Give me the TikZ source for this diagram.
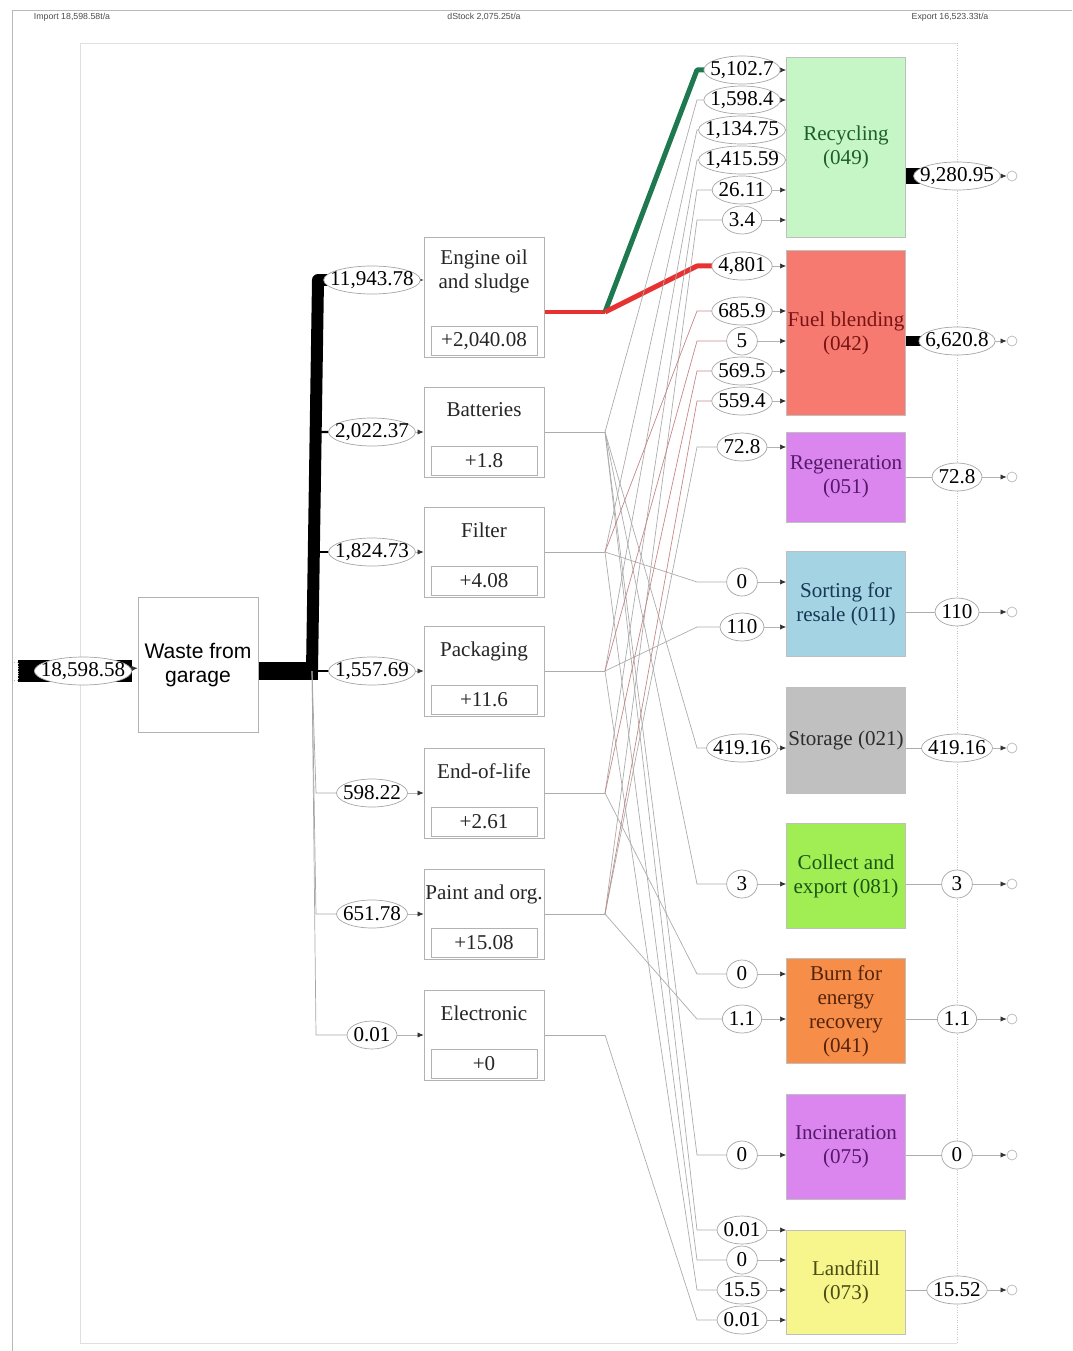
\documentclass[tikz,border=0pt]{standalone}
\usepackage{fontspec}
\setmainfont{Liberation Serif}
\setsansfont{Liberation Sans}
\usetikzlibrary{positioning,arrows.meta,calc}

\pgfdeclarelayer{bg}
\pgfdeclarelayer{rim}
\pgfsetlayers{bg,rim,main}

% Farben der Behandlungsarten
\definecolor{recfill}{RGB}{198,246,198}
\definecolor{rectext}{RGB}{30,95,40}
\definecolor{fuelfill}{RGB}{246,122,112}
\definecolor{fueltext}{RGB}{120,20,20}
\definecolor{violfill}{RGB}{218,134,238}
\definecolor{violtext}{RGB}{85,25,105}
\definecolor{sortfill}{RGB}{164,212,228}
\definecolor{sorttext}{RGB}{25,55,85}
\definecolor{storfill}{RGB}{192,192,192}
\definecolor{stortext}{RGB}{45,45,45}
\definecolor{collfill}{RGB}{160,238,84}
\definecolor{colltext}{RGB}{25,85,20}
\definecolor{burnfill}{RGB}{246,142,74}
\definecolor{burntext}{RGB}{85,35,10}
\definecolor{landfill}{RGB}{246,246,140}
\definecolor{landtext}{RGB}{75,75,20}
\definecolor{oilgreen}{RGB}{30,120,80}
\definecolor{oilred}{RGB}{232,50,50}

\begin{document}
\begin{tikzpicture}[
  x=0.02cm, y=-0.02cm,
  every node/.style={font=\fontsize{12}{13.6}\selectfont},
  head/.style={font=\sffamily\fontsize{5}{6}\selectfont, text=black!70},
  amount/.style={inner xsep=3.5pt, inner ysep=0pt, minimum height=0.56cm, minimum width=0.6cm},
  stage/.style={draw=gray!60, fill=white, minimum width=2.4cm, minimum height=1.8cm},
  title/.style={anchor=north, align=center, inner sep=0pt, text=black!85},
  stock/.style={draw=gray!60, anchor=south, minimum width=2.12cm, minimum height=0.58cm, inner sep=0pt, text=black!85},
  proc/.style={draw=gray!50, minimum width=2.38cm, inner xsep=0pt, align=center},
  sink/.style={circle, draw=gray!55, minimum size=0.2cm, inner sep=0pt},
  feed/.style={-{Latex[length=3.5pt,width=3pt,color=black!80]}, gray!60},
  flow/.style={gray!65},
  tofuel/.style={red!35!gray!70}
]
\useasboundingbox (0,0) rectangle (1072,1351);

% Kopfzeile
\node[head] (import) at (72,17) {Import 18,598.58t/a};
\node[head] (dstock) at (484,17) {dStock 2,075.25t/a};
\node[head] (export) at (950,17) {Export 16,523.33t/a};

% Quelle
\node[draw=gray!60, densely dotted, minimum width=0.12cm, minimum height=0.36cm, inner sep=0pt] (src) at (15,671) {};
\node[amount] (imp) at (83,671) {18,598.58};
\node[stage, minimum height=2.7cm, align=center, font=\sffamily\fontsize{12}{13.5}\selectfont] (garage) at (198,665) {Waste from\\garage};
\coordinate (split) at (312,671);

% Abfallarten
\node[amount] (a1) at (372,280) {11,943.78};
\node[amount] (a2) at (372,432) {2,022.37};
\node[amount] (a3) at (372,552) {1,824.73};
\node[amount] (a4) at (372,671) {1,557.69};
\node[amount] (a5) at (372,793) {598.22};
\node[amount] (a6) at (372,914) {651.78};
\node[amount] (a7) at (372,1035) {0.01};

\node[stage, minimum height=2.4cm] (oil) at (484,297) {};
\node[title] (toil) at ([yshift=-0.26cm]oil.north) {Engine oil\\and sludge};
\node[stock] (doil) at ([yshift=1pt]oil.south) {+2,040.08};
\coordinate (joil) at (605,312);

\foreach \nm/\yy/\lbl/\dd in {bat/432/Batteries/+1.8, fil/552/Filter/+4.08, pack/671/Packaging/+11.6,
    eol/793/End-of-life/+2.61, paint/914/Paint and org./+15.08, elec/1035/Electronic/+0} {
  \node[stage] (\nm) at (484,\yy) {};
  \node[title] (t\nm) at ([yshift=-0.32cm]\nm.north) {\lbl};
  \node[stock] (d\nm) at ([yshift=1pt]\nm.south) {\dd};
  \coordinate (j\nm) at (605,\yy);
}

% Mengen vor den Behandlungen
\node[amount] (r1) at (742,70) {5,102.7};
\node[amount] (r2) at (742,100) {1,598.4};
\node[amount] (r3) at (742,130) {1,134.75};
\node[amount] (r4) at (742,160) {1,415.59};
\node[amount] (r5) at (742,190) {26.11};
\node[amount] (r6) at (742,220) {3.4};
\node[amount] (f1) at (742,266) {4,801};
\node[amount] (f2) at (742,311) {685.9};
\node[amount] (f3) at (742,341) {5};
\node[amount] (f4) at (742,371) {569.5};
\node[amount] (f5) at (742,401) {559.4};
\node[amount] (g1) at (742,447) {72.8};
\node[amount] (s1) at (742,582) {0};
\node[amount] (s2) at (742,627) {110};
\node[amount] (st1) at (742,748) {419.16};
\node[amount] (c1) at (742,884) {3};
\node[amount] (b1) at (742,974) {0};
\node[amount] (b2) at (742,1019) {1.1};
\node[amount] (n1) at (742,1155) {0};
\node[amount] (l1) at (742,1230) {0.01};
\node[amount] (l2) at (742,1260) {0};
\node[amount] (l3) at (742,1290) {15.5};
\node[amount] (l4) at (742,1320) {0.01};

% Behandlungen
\node[proc, fill=recfill, text=rectext, minimum height=3.6cm] (rec) at (846,147) {Recycling\\(049)};
\node[proc, fill=fuelfill, text=fueltext, minimum height=3.3cm] (fuel) at (846,333) {Fuel blending\\(042)};
\node[proc, fill=violfill, text=violtext, minimum height=1.8cm] (regen) at (846,477) {Regeneration\\(051)};
\node[proc, fill=sortfill, text=sorttext, minimum height=2.1cm] (sort) at (846,604) {Sorting for\\resale (011)};
\node[proc, fill=storfill, text=stortext, minimum height=2.12cm] (store) at (846,740) {Storage (021)};
\node[proc, fill=collfill, text=colltext, minimum height=2.1cm] (coll) at (846,876) {Collect and\\export (081)};
\node[proc, fill=burnfill, text=burntext, minimum height=2.1cm] (burn) at (846,1011) {Burn for\\energy\\recovery\\(041)};
\node[proc, fill=violfill, text=violtext, minimum height=2.1cm] (incin) at (846,1147) {Incineration\\(075)};
\node[proc, fill=landfill, text=landtext, minimum height=2.08cm] (land) at (846,1282) {Landfill\\(073)};

% Export
\node[amount] (o1) at (957,176) {9,280.95};
\node[amount] (o2) at (957,341) {6,620.8};
\node[amount] (o3) at (957,477) {72.8};
\node[amount] (o4) at (957,612) {110};
\node[amount] (o5) at (957,748) {419.16};
\node[amount] (o6) at (957,884) {3};
\node[amount] (o7) at (957,1019) {1.1};
\node[amount] (o8) at (957,1155) {0};
\node[amount] (o9) at (957,1290) {15.52};
\foreach \i in {1,...,9}
  \node[sink] (k\i) at (1012,0 |- o\i) {};

% Ellipsen um die Mengen
\begin{pgfonlayer}{rim}
\foreach \nm in {imp,a1,a2,a3,a4,a5,a6,a7,r1,r2,r3,r4,r5,r6,f1,f2,f3,f4,f5,g1,s1,s2,st1,c1,
    b1,b2,n1,l1,l2,l3,l4,o1,o2,o3,o4,o5,o6,o7,o8,o9}
  \path[draw=gray!70, fill=white] let \p1=($(\nm.east)-(\nm.west)$) in
    (\nm.center) ellipse [x radius=0.5*\x1, y radius=0.28cm];
\end{pgfonlayer}

\begin{pgfonlayer}{bg}
% Rahmen
\draw[gray!55] (12,1351) -- (12,10) -- (1072,10);
\draw[gray!25] (957,43) -- (80,43) -- (80,1343) -- (957,1343);
\draw[gray!45, densely dotted] (957,43) -- (957,1343);

% Import und Aufteilung
\draw[line width=0.44cm] (src) -- (imp.east);
\draw[feed] (imp) -- (garage);
\draw[line width=0.36cm] (garage.east |- split) -- ([xshift=0.12cm]split);
\draw[line width=0.24cm, line join=round] (split) -- (318,280) -- (a1.center);
\foreach \i/\w in {2/1.2pt,3/1.1pt,4/1pt}
  \draw[line width=\w] (split) -- (318,0 |- a\i) -- (a\i);
\foreach \i in {5,6,7}
  \draw[gray!70] (split) -- (316,0 |- a\i) -- (a\i);
\draw[feed] (a1) -- (a1 -| oil.west);
\foreach \i/\nm in {2/bat,3/fil,4/pack,5/eol,6/paint,7/elec}
  \draw[feed] (a\i) -- (\nm);

% Verteilung auf die Behandlungen
\draw[oilred, line width=0.1cm] (oil.east |- joil) -- (joil);
\draw[oilgreen, line width=0.1cm, line join=round] (joil) -- (697,0 |- r1) -- (r1);
\draw[oilred, line width=0.1cm, line join=round] (joil) -- (697,0 |- f1) -- (f1);
\foreach \nm in {bat,fil,pack,eol,paint,elec}
  \draw[flow] (\nm.east) -- (j\nm);
\foreach \src/\dst in {bat/r2, bat/st1, bat/c1, bat/n1, bat/l1, fil/r3, fil/s1, fil/l2,
    pack/r4, pack/s2, pack/l3, eol/r5, eol/b1, paint/r6, paint/g1, paint/b2, elec/l4}
  \draw[flow] (j\src) -- (697,0 |- \dst) -- (\dst);
\foreach \src/\dst in {fil/f2, pack/f3, eol/f4, paint/f5}
  \draw[tofuel] (j\src) -- (697,0 |- \dst) -- (\dst);

% Pfeile in die Behandlungen
\foreach \dst/\bx in {r1/rec,r2/rec,r3/rec,r4/rec,r5/rec,r6/rec,f1/fuel,f2/fuel,f3/fuel,f4/fuel,f5/fuel,
    g1/regen,s1/sort,s2/sort,st1/store,c1/coll,b1/burn,b2/burn,n1/incin,l1/land,l2/land,l3/land,l4/land}
  \draw[feed] (\dst) -- (\dst -| \bx.west);

% Export
\draw[line width=0.32cm] (rec.east |- o1) -- (o1.center);
\draw[line width=0.22cm] (fuel.east |- o2) -- (o2.center);
\foreach \bx/\o in {regen/o3, sort/o4, store/o5, coll/o6, burn/o7, incin/o8, land/o9}
  \draw[flow] (\bx.east |- \o) -- (\o);
\foreach \i in {1,...,9}
  \draw[feed] (o\i) -- (k\i);
\end{pgfonlayer}

\end{tikzpicture}
\end{document}
